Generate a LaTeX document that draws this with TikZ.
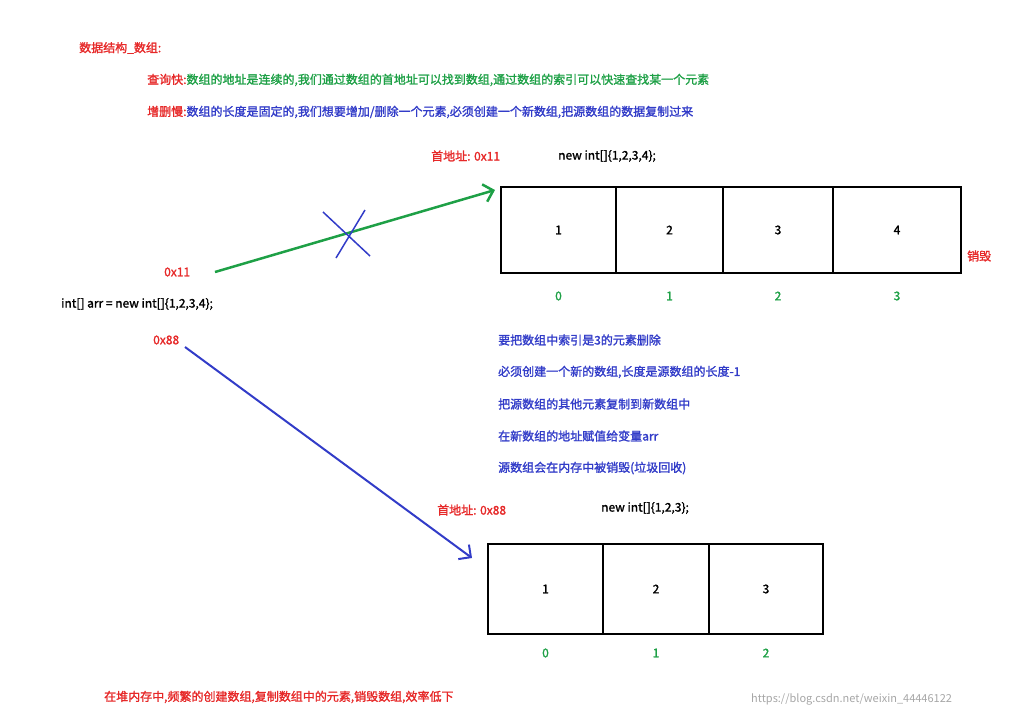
\documentclass[tikz,border=0pt]{standalone}
\usepackage{fontspec}
\setmainfont{Noto Sans CJK SC}[AutoFakeBold=1.5]
\usetikzlibrary{arrows.meta}
\definecolor{redtxt}{RGB}{230,40,40}
\definecolor{greentxt}{RGB}{30,160,70}
\definecolor{bluetxt}{RGB}{50,60,200}
\begin{document}
\begin{tikzpicture}[x=1pt, y=-1pt, every node/.style={font=\fontsize{12}{14}\selectfont\bfseries, inner sep=1pt},
    lbl/.style={anchor=west}, cell/.style={draw, line width=2pt, minimum height=86pt, anchor=north west}]
    \useasboundingbox (0,0) rectangle (1029,721);
    % header
    \node[lbl, text=redtxt] (title) at (78,48) {数据结构\_数组:};
    \node[lbl] (fast) at (146,80) {\textcolor{redtxt}{查询快:}\textcolor{greentxt}{数组的地址是连续的,我们通过数组的首地址可以找到数组,通过数组的索引可以快速查找某一个元素}};
    \node[lbl] (slow) at (146,112) {\textcolor{redtxt}{增删慢:}\textcolor{bluetxt}{数组的长度是固定的,我们想要增加/删除一个元素,必须创建一个新数组,把源数组的数据复制过来}};

    % array 1
    \node[lbl, text=redtxt] (addr1) at (430,156) {首地址: 0x11};
    \node[lbl] (new1) at (557,156) {new int[]\{1,2,3,4\};};
    \foreach \x/\w/\v/\i [count=\k] in {500/115/1/0, 615/107/2/1, 722/110/3/2, 832/128/4/3} {
        \node[cell, minimum width=\w pt] (a\k) at (\x,186) {\v};
        \node[text=greentxt] (ai\k) at (a\k.south) [yshift=-22pt] {\i};
    }
    \node[lbl, text=redtxt] (gone) at (966,256) {销毁};

    % array 2
    \node[lbl, text=redtxt] (addr2) at (436,510) {首地址: 0x88};
    \node[lbl] (new2) at (600,508) {new int[]\{1,2,3\};};
    \foreach \x/\w/\v/\i [count=\k] in {487/115/1/0, 602/106/2/1, 708/114/3/2} {
        \node[cell, minimum width=\w pt, minimum height=90pt] (b\k) at (\x,543) {\v};
        \node[text=greentxt] (bi\k) at (b\k.south) [yshift=-18pt] {\i};
    }

    % variable
    \node[lbl] (arr) at (60,304) {int[] arr = new int[]\{1,2,3,4\};};
    \node[lbl, text=redtxt] (old) at (163,272) {0x11};
    \node[lbl, text=redtxt] (newref) at (152,340) {0x88};
    \coordinate (tip1) at (495,190);
    \coordinate (tip2) at (472,558);
    \draw[greentxt, line width=2.5pt, -{Straight Barb[length=9pt]}] (215,272) -- (tip1);
    \draw[bluetxt, line width=1.5pt] (323,212) -- (370,256) (336,258) -- (365,210);
    \draw[bluetxt, line width=2pt, -{Straight Barb[length=9pt]}] (185,347) -- (tip2);

    % steps
    \foreach \t [count=\k] in {{要把数组中索引是3的元素删除}, {必须创建一个新的数组,长度是源数组的长度-1},
        {把源数组的其他元素复制到新数组中}, {在新数组的地址赋值给变量arr}, {源数组会在内存中被销毁(垃圾回收)}}
        \node[lbl, text=bluetxt] (s\k) at (497,340+32*\k-32) {\t};

    \node[lbl, text=redtxt] (sum) at (103,697) {在堆内存中,频繁的创建数组,复制数组中的元素,销毁数组,效率低下};
    \node[lbl, text=gray!70, font=\fontsize{11}{13}\selectfont] (mark) at (750,699) {https://blog.csdn.net/weixin\_44446122};
\end{tikzpicture}
\end{document}
